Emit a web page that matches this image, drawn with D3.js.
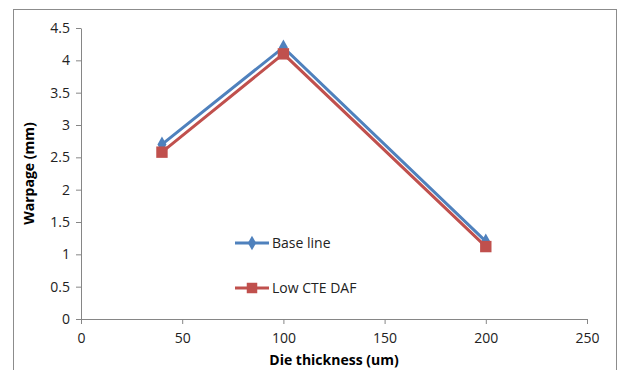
<!DOCTYPE html>
<html>
<head>
<meta charset="utf-8">
<script src="https://cdn.jsdelivr.net/npm/d3@7"></script>
<style>
  body { margin: 0; background: #fff; }
  text { font-family: "Open Sans", "Noto Sans", sans-serif; }
</style>
</head>
<body>
<svg width="622" height="370"></svg>
<script>
"use strict";
// data
var thickness = [40, 100, 200];
var baseLine = [2.7, 4.2, 1.2];
var lowCte = [2.58, 4.1, 1.12];
var seriesNames = ["Base line", "Low CTE DAF"];
var xTicks = [0, 50, 100, 150, 200, 250];
var yTicks = [0, 0.5, 1, 1.5, 2, 2.5, 3, 3.5, 4, 4.5];

var svg = d3.select('svg');
var width = Number(svg.attr('width'));
var height = Number(svg.attr('height'));

// chart frame
svg.append('rect')
    .attr('x', 13.5).attr('y', 9.5)
    .attr('width', 603).attr('height', 370)
    .attr('fill', 'none')
    .attr('stroke', '#8c8c8c')
    .attr('stroke-width', 1);

var x = d3.scaleLinear().domain([0, 250]).range([81, 587]);
var y = d3.scaleLinear().domain([0, 4.5]).range([319, 28]);

// axes
var xAxis = svg.append('g')
    .attr('transform', 'translate(0,' + y(0) + ')')
    .call(d3.axisBottom(x).tickValues(xTicks).tickFormat(String)
        .tickSize(5).tickPadding(9).tickSizeOuter(0));
var yAxis = svg.append('g')
    .attr('transform', 'translate(' + x(0) + ',0)')
    .call(d3.axisLeft(y).tickValues(yTicks).tickFormat(String)
        .tickSize(5).tickPadding(6).tickSizeOuter(0));

[xAxis, yAxis].forEach(function (a) {
    a.select('.domain').attr('stroke', '#868686');
    a.selectAll('.tick line').attr('stroke', '#868686');
    a.selectAll('.tick text')
        .attr('fill', '#222')
        .style('font-size', '14px');
});

// axis titles
svg.append('text')
    .attr('x', 334).attr('y', 365)
    .attr('text-anchor', 'middle')
    .style('font-size', '14px')
    .style('font-weight', 'bold')
    .text('Die thickness (um)');
svg.append('text')
    .attr('transform', 'translate(34,' + (y(0) + y(4.5)) / 2 + ') rotate(-90)')
    .attr('text-anchor', 'middle')
    .style('font-size', '14px')
    .style('font-weight', 'bold')
    .text('Warpage (mm)');

var colors = ['#4f81bd', '#c0504d'];
var allSeries = [baseLine, lowCte];
var line = d3.line()
    .x(function (d, i) { return x(thickness[i]); })
    .y(function (d) { return y(d); });

// blue first, red drawn on top
allSeries.forEach(function (vals, s) {
    svg.append('path')
        .datum(vals)
        .attr('d', line)
        .attr('fill', 'none')
        .attr('stroke', colors[s])
        .attr('stroke-width', 3);
    var sym = s === 0 ? d3.symbolDiamond : d3.symbolSquare;
    var size = s === 0 ? 70 : 130;
    svg.selectAll(null)
        .data(vals)
        .enter().append('path')
        .attr('transform', function (d, i) {
            return 'translate(' + x(thickness[i]) + ',' + y(d) + ')';
        })
        .attr('d', d3.symbol().type(sym).size(size))
        .attr('fill', colors[s]);
});

// legend
var legend = svg.append('g');
var legendY = [243, 288];
seriesNames.forEach(function (name, s) {
    var g = legend.append('g').attr('transform', 'translate(235,' + legendY[s] + ')');
    g.append('line')
        .attr('x1', 0).attr('x2', 34)
        .attr('stroke', colors[s])
        .attr('stroke-width', 3);
    g.append('path')
        .attr('transform', 'translate(17,0)')
        .attr('d', d3.symbol().type(s === 0 ? d3.symbolDiamond : d3.symbolSquare).size(s === 0 ? 60 : 110))
        .attr('fill', colors[s]);
    g.append('text')
        .attr('x', 37).attr('y', 5)
        .style('font-size', '14px')
        .attr('fill', '#222')
        .text(name);
});
</script>
</body>
</html>
